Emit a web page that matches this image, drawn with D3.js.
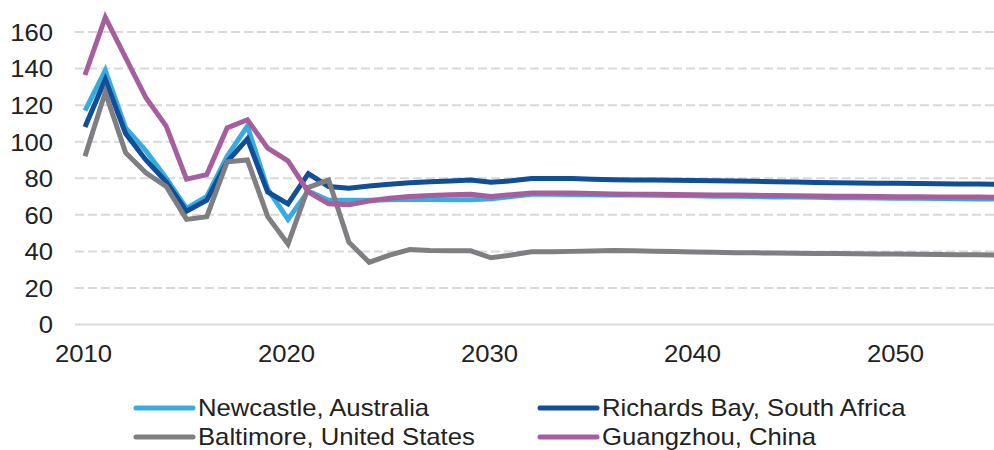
<!DOCTYPE html>
<html>
<head>
<meta charset="utf-8">
<script src="https://cdn.jsdelivr.net/npm/d3@7"></script>
<style>
  html, body { margin: 0; padding: 0; background: #fff; }
  svg { display: block; }
  text { font-family: "Liberation Sans", Arial, sans-serif; fill: #222; }
</style>
</head>
<body>
<svg id="chart" width="994" height="450"></svg>
<script>
const years = d3.range(2010, 2056);
const xTickLabels = [2010, 2020, 2030, 2040, 2050];
const yTickLabels = [0, 20, 40, 60, 80, 100, 120, 140, 160];

const seriesNames = ["Newcastle, Australia", "Richards Bay, South Africa", "Baltimore, United States", "Guangzhou, China"];

const newcastle = [117, 139, 107.5, 95, 80, 63.5, 70, 92, 108.5, 74, 57.5, 73, 68, 68, 68, 68.3, 68.5, 68.4, 68.2, 68.3,
  68.8, 70, 71.2, 71.2, 71.1, 71, 70.9, 70.8, 70.7, 70.5, 70.4, 70.2, 70.1, 70, 69.8, 69.7, 69.6, 69.4, 69.3, 69.2,
  69.1, 69, 68.9, 68.8, 68.7, 68.6];
const richardsBay = [108, 134, 104.5, 90, 78, 62, 68, 89, 101.5, 72.5, 66, 82.5, 75.5, 74.5, 75.8, 76.7, 77.6, 78.1, 78.5, 79,
  77.8, 78.6, 79.8, 79.8, 79.8, 79.5, 79.2, 79, 79, 78.9, 78.8, 78.6, 78.5, 78.3, 78.1, 77.9, 77.7, 77.5, 77.4, 77.3,
  77.2, 77.1, 77, 76.9, 76.8, 76.7];
const baltimore = [92, 127, 94, 83, 75.5, 57.5, 59, 89, 90, 59, 44, 75, 79, 45, 34, 38, 41, 40.5, 40.3, 40.3,
  36.5, 38, 39.8, 39.8, 40, 40.2, 40.5, 40.3, 40.1, 39.9, 39.6, 39.5, 39.3, 39.2, 39.1, 39, 38.9, 38.8, 38.7, 38.6,
  38.5, 38.4, 38.3, 38.2, 38.1, 38];
const guangzhou = [136.5, 168, 146, 124, 108.5, 79.5, 82, 107.5, 112, 96.5, 89.5, 72.5, 66, 65.5, 67.6, 69, 70, 70.6, 71, 71.3,
  70, 71, 72, 72, 72, 71.6, 71.4, 71.3, 71.2, 71.1, 71, 70.9, 70.8, 70.7, 70.5, 70.4, 70.3, 70.2, 70.1, 70,
  69.9, 69.9, 69.8, 69.7, 69.7, 69.6];

const seriesValues = [newcastle, richardsBay, baltimore, guangzhou];
const colors = ["#38ace0", "#114e98", "#7f7f83", "#a65e9f"];

const svg = d3.select("#chart");
const step = 20.3;
const x = d3.scaleLinear().domain([2010, 2055]).range([85, 85 + 45 * step]);
const y = d3.scaleLinear().domain([0, 160]).range([324.5, 32]);
const plotLeft = 75, plotRight = 994;
const textStretch = "scale(1.07,1)";

// gridlines
svg.append("g").selectAll("line")
  .data(yTickLabels)
  .join("line")
  .attr("x1", plotLeft).attr("x2", plotRight)
  .attr("y1", d => y(d)).attr("y2", d => y(d))
  .attr("stroke", "#d9d9d9")
  .attr("stroke-width", 2)
  .attr("stroke-dasharray", d => d === 0 ? null : "9,4");

// y axis labels
const yAxis = d3.axisLeft(y).tickValues(yTickLabels).tickSize(0).tickPadding(0);
const gy = svg.append("g").attr("transform", "translate(53,0)").call(yAxis);
gy.select(".domain").remove();
gy.selectAll("text").style("font-size", "24px").attr("fill", "#222").attr("dy", "0.35em")
  .attr("transform", textStretch)
  .style("font-family", "'Liberation Sans', Arial, sans-serif");

// x axis labels
const xAxis = d3.axisBottom(x).tickValues(xTickLabels).tickFormat(d3.format("d")).tickSize(0).tickPadding(0);
const gx = svg.append("g").attr("transform", "translate(-2,345)").call(xAxis);
gx.select(".domain").remove();
gx.selectAll("text").style("font-size", "24px").attr("fill", "#222").attr("dy", "0.71em")
  .attr("transform", textStretch)
  .style("font-family", "'Liberation Sans', Arial, sans-serif");

// lines
const line = d3.line().x((d, i) => x(years[i])).y(d => y(d));
svg.append("defs").append("clipPath").attr("id", "clip")
  .append("rect").attr("x", 0).attr("y", 0).attr("width", plotRight).attr("height", 340);
const gLines = svg.append("g").attr("clip-path", "url(#clip)");
seriesValues.forEach((vals, k) => {
  gLines.append("path")
    .datum(vals)
    .attr("d", line)
    .attr("fill", "none")
    .attr("stroke", colors[k])
    .attr("stroke-width", 5);
});

// legend
const legendPos = [[136, 408], [540, 408], [136, 437], [540, 437]];
const lg = svg.append("g");
seriesNames.forEach((name, k) => {
  const [lx, ly] = legendPos[k];
  lg.append("line").attr("x1", lx).attr("x2", lx + 57).attr("y1", ly).attr("y2", ly)
    .attr("stroke", colors[k]).attr("stroke-width", 5).attr("stroke-linecap", "round");
  lg.append("g").attr("transform", `translate(${lx + 62},${ly})`)
    .append("text").attr("x", 0).attr("y", 0).attr("dy", "0.35em")
    .attr("transform", textStretch)
    .style("font-size", "24px").text(name);
});
</script>
</body>
</html>
